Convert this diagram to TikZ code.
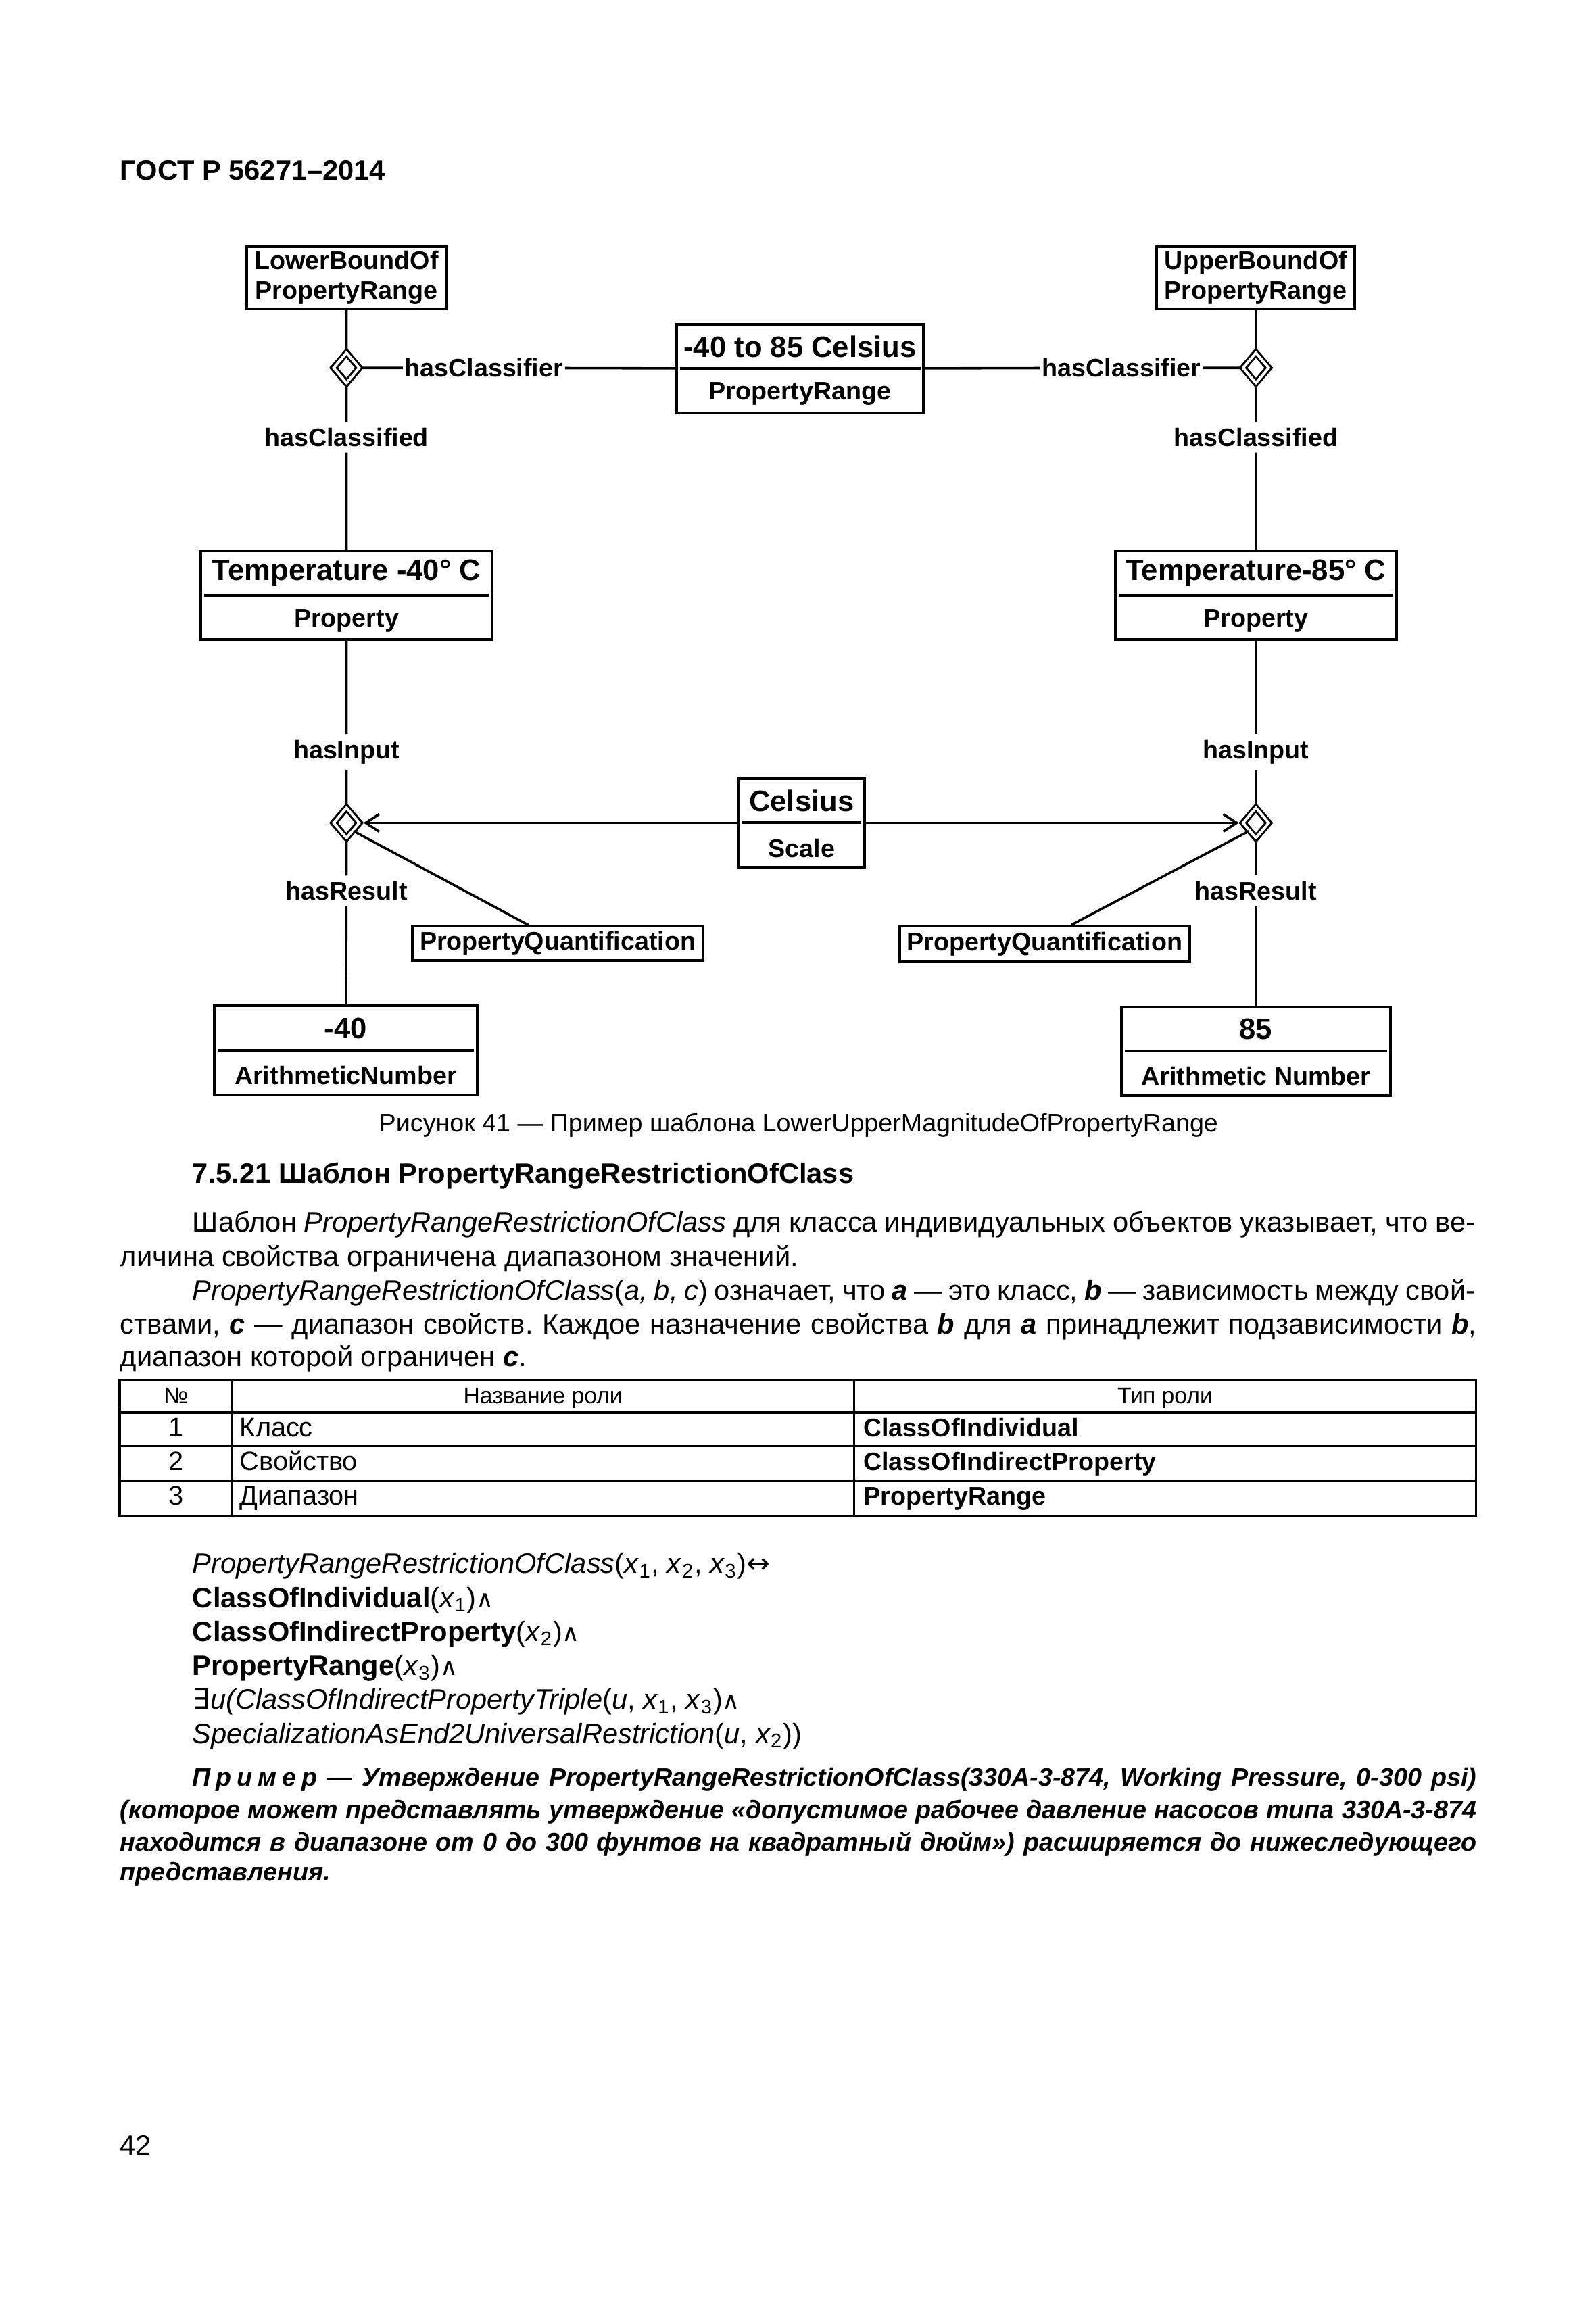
\documentclass[tikz,border=0pt]{standalone}
\usepackage{fontspec}
\setmainfont{Liberation Sans}
\newfontfamily\symf{DejaVu Sans}
\usetikzlibrary{shapes.geometric,arrows.meta}
\frenchspacing

\newlength\pxu
\setlength\pxu{0.5512pt}
\newcommand\dsmall{\fontsize{9.5}{11}\selectfont\bfseries}
\newcommand\dhead{\fontsize{11}{13}\selectfont\bfseries}
\newcommand\andsym{{\symf\fontsize{9}{10}\selectfont ∧}}

\begin{document}
\begin{tikzpicture}[x=\pxu, y=-\pxu,
    clsbox/.style={draw, line width=1pt, minimum height=60*\pxu, inner sep=0pt},
    assoc/.style={diamond, draw, double, line width=0.75pt, double distance=1pt,
      minimum width=18*\pxu, minimum height=21*\pxu, inner sep=0pt},
    conn/.style={line width=0.9pt},
    lbl/.style={font=\dsmall, inner xsep=0.5pt, inner ysep=2pt},
    txt/.style={anchor=base west, inner sep=0pt, font=\fontsize{10.5}{12.5}\selectfont},
    ex/.style={anchor=base west, inner sep=0pt, font=\fontsize{9.5}{11.5}\selectfont\bfseries\itshape},
    tbl/.style={line width=0.8pt},
    cell/.style={anchor=base, inner sep=0pt, font=\fontsize{10}{12}\selectfont}]
  \path[fill=white] (0,0) rectangle (1080,1567);
  \useasboundingbox (0,0) rectangle (1080,1567);

  \node[txt, font=\fontsize{10.5}{12.5}\selectfont\bfseries] (gost) at (81,122) {ГОСТ Р 56271–2014};

  % classes of the diagram
  \node[clsbox, minimum width=135*\pxu, minimum height=42*\pxu, align=center, font=\dsmall] (lowerB) at (234.5,188) {LowerBoundOf\\PropertyRange};
  \node[clsbox, minimum width=134*\pxu, minimum height=42*\pxu, align=center, font=\dsmall] (upperB) at (850,188) {UpperBoundOf\\PropertyRange};
  \foreach \n/\x/\y/\w/\hd/\tp in {range/541.5/249.5/167/-40 to 85 Celsius/PropertyRange,
      tempL/234.5/403/197/Temperature -40° C/Property,
      tempR/850/403/190/Temperature-85° C/Property,
      scale/542.5/557/85/Celsius/Scale,
      numL/234/711/178/-40/ArithmeticNumber,
      numR/850/711.5/182/85/Arithmetic Number}
  {
    \node[clsbox, minimum width=\w*\pxu] (\n) at (\x,\y) {};
    \draw[line width=1pt] ([xshift=3*\pxu]\n.west) -- ([xshift=-3*\pxu]\n.east);
    \node[font=\dhead, inner sep=0pt] (\n-hd) at (\x,\y-15) {\hd};
    \node[font=\dsmall, inner sep=0pt] (\n-tp) at (\x,\y+17) {\tp};
  }
  \node[clsbox, minimum width=197*\pxu, minimum height=23*\pxu, font=\dsmall] (pqL) at (377.5,638.5) {PropertyQuantification};
  \node[clsbox, minimum width=196*\pxu, minimum height=24*\pxu, font=\dsmall] (pqR) at (707,639) {PropertyQuantification};

  % relationships
  \node[assoc] (diaTL) at (234.5,249) {};
  \node[assoc] (diaTR) at (850,249) {};
  \node[assoc] (diaBL) at (234.5,557) {};
  \node[assoc] (diaBR) at (850,557) {};

  \node[lbl] (clsrL) at (327.5,249) {hasClassifier};
  \node[lbl] (clsrR) at (759,249) {hasClassifier};
  \node[lbl] (cldL) at (234.5,296) {hasClassified};
  \node[lbl] (cldR) at (850,296) {hasClassified};
  \node[lbl] (inL) at (234.5,509) {hasInput};
  \node[lbl] (inR) at (850,509) {hasInput};
  \node[lbl] (resL) at (234.5,603) {hasResult};
  \node[lbl] (resR) at (850,603) {hasResult};

  \draw[conn] (lowerB) -- (diaTL) (diaTL) -- (clsrL) (clsrL) -- (range)
    (diaTL) -- (cldL) (cldL) -- (tempL);
  \draw[conn] (upperB) -- (diaTR) (diaTR) -- (clsrR) (clsrR) -- (range)
    (diaTR) -- (cldR) (cldR) -- (tempR);
  \draw[conn] (tempL) -- (inL) (inL) -- (diaBL) (diaBL) -- (resL) (resL) -- (numL);
  \draw[conn] (tempR) -- (inR) (inR) -- (diaBR) (diaBR) -- (resR) (resR) -- (numR);
  \draw[conn, -{Straight Barb[length=5pt,width=6.5pt]}, shorten >=1pt] (scale) -- (diaBL);
  \draw[conn, -{Straight Barb[length=5pt,width=6.5pt]}, shorten >=1pt] (scale) -- (diaBR);
  \draw[conn] ([xshift=-20*\pxu]pqL.north) -- (diaBL.south east);
  \draw[conn] ([xshift=18*\pxu]pqR.north) -- (diaBR.south west);

  \node[anchor=base, inner sep=0pt, font=\fontsize{9.5}{11.5}\selectfont] (cap) at (540.5,766) {Рисунок 41 — Пример шаблона LowerUpperMagnitudeOfPropertyRange};

  % text of 7.5.21
  \node[txt, font=\fontsize{10.5}{12.5}\selectfont\bfseries] (sect) at (130,801) {7.5.21 Шаблон PropertyRangeRestrictionOfClass};
  \node[txt] (p1) at (130,834) {\makebox[868\pxu][s]{Шаблон \textit{PropertyRangeRestrictionOfClass} для класса индивидуальных объектов указывает, что ве-}};
  \node[txt] (p2) at (81,857) {личина свойства ограничена диапазоном значений.};
  \node[txt] (p3) at (130,880) {\makebox[868\pxu][s]{\textit{PropertyRangeRestrictionOfClass}(\textit{a, b, c}) означает, что \textbf{\textit{a}} — это класс, \textbf{\textit{b}} — зависимость между свой-}};
  \node[txt] (p4) at (81,903) {\makebox[918\pxu][s]{ствами, \textbf{\textit{c}} — диапазон свойств. Каждое назначение свойства \textbf{\textit{b}} для \textbf{\textit{a}} принадлежит подзависимости \textbf{\textit{b}},}};
  \node[txt] (p5) at (81,925) {диапазон которой ограничен \textbf{\textit{c}}.};

  % table of roles
  \draw[tbl] (81,934) rectangle (999,1026);
  \draw[tbl] (157,934) -- (157,1026) (578,934) -- (578,1026);
  \draw[line width=1.2pt] (81,956) -- (999,956);
  \draw[tbl] (81,979) -- (999,979) (81,1002) -- (999,1002);
  \node[cell, font=\fontsize{8.5}{10}\selectfont] (th1) at (119,950) {№};
  \node[cell, font=\fontsize{8.5}{10}\selectfont] (th2) at (367.5,950) {Название роли};
  \node[cell, font=\fontsize{8.5}{10}\selectfont] (th3) at (788.5,950) {Тип роли};
  \foreach \i/\r/\t/\yy in {1/Класс/ClassOfIndividual/972.5, 2/Свойство/ClassOfIndirectProperty/995.5, 3/Диапазон/PropertyRange/1018.5}
  {
    \node[cell] (no\i) at (119,\yy) {\i};
    \node[cell, anchor=base west] (role\i) at (162,\yy) {\r};
    \node[cell, anchor=base west, font=\fontsize{9.5}{12}\selectfont\bfseries] (type\i) at (584,\yy) {\t};
  }

  % formula
  \node[txt] (f1) at (130,1065) {\textit{PropertyRangeRestrictionOfClass}(\textit{x}\textsubscript{1}, \textit{x}\textsubscript{2}, \textit{x}\textsubscript{3}){\symf ↔}};
  \node[txt] (f2) at (130,1088) {\textbf{ClassOfIndividual}(\textit{x}\textsubscript{1})\andsym};
  \node[txt] (f3) at (130,1111) {\textbf{ClassOfIndirectProperty}(\textit{x}\textsubscript{2})\andsym};
  \node[txt] (f4) at (130,1134) {\textbf{PropertyRange}(\textit{x}\textsubscript{3})\andsym};
  \node[txt] (f5) at (130,1157) {{\symf ∃}\textit{u(ClassOfIndirectPropertyTriple}(\textit{u}, \textit{x}\textsubscript{1}, \textit{x}\textsubscript{3})\andsym};
  \node[txt] (f6) at (130,1180) {\textit{SpecializationAsEnd2UniversalRestriction}(\textit{u}, \textit{x}\textsubscript{2}))};

  % example
  \node[ex] (e1) at (130,1209) {\makebox[869\pxu][s]{П\kern2pt р\kern2pt и\kern2pt м\kern2pt е\kern2pt р — Утверждение PropertyRangeRestrictionOfClass(330A-3-874, Working Pressure, 0-300 psi)}};
  \node[ex] (e2) at (81,1231) {\makebox[918\pxu][s]{(которое может представлять утверждение «допустимое рабочее давление насосов типа 330A-3-874}};
  \node[ex] (e3) at (81,1253) {\makebox[918\pxu][s]{находится в диапазоне от 0 до 300 фунтов на квадратный дюйм») расширяется до нижеследующего}};
  \node[ex] (e4) at (81,1273) {представления.};

  \node[txt] (page) at (81,1459) {42};
\end{tikzpicture}
\end{document}
